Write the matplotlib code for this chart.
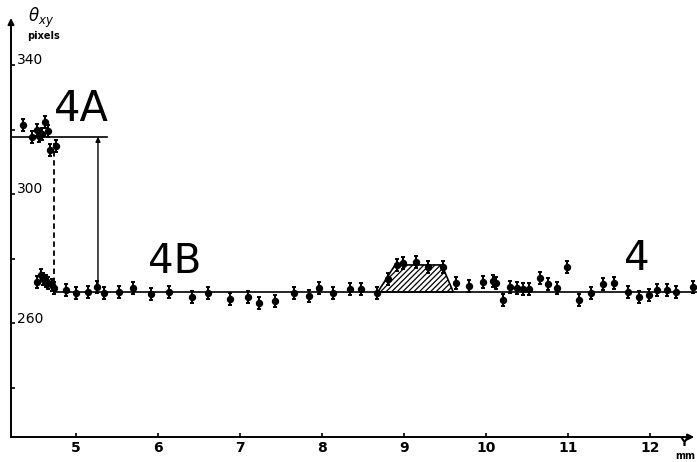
import matplotlib
matplotlib.use('Agg')
import matplotlib.pyplot as plt
from matplotlib.patches import Polygon

# measured points, Y in mm, theta_xy in pixels
y_4a = [4.36, 4.46, 4.53, 4.55, 4.59, 4.63, 4.66, 4.69, 4.76]
theta_4a = [321.4, 317.7, 319.9, 318.0, 318.6, 322.4, 319.6, 313.7, 314.9]

y_4b = [4.53, 4.58, 4.60, 4.64, 4.66, 4.71, 4.74, 4.88, 5.00, 5.15,
        5.26, 5.34, 5.53, 5.70, 5.92, 6.14, 6.41, 6.61, 6.88, 7.10,
        7.23, 7.43, 7.66, 7.84, 7.96, 8.14, 8.34, 8.48, 8.67, 8.81,
        8.92, 8.99, 9.15, 9.29, 9.47, 9.63, 9.79, 9.96, 10.08, 10.12,
        10.21, 10.29, 10.38, 10.45, 10.52, 10.66, 10.75, 10.86, 10.99, 11.13,
        11.28, 11.42, 11.56, 11.73, 11.86, 11.98, 12.08, 12.20, 12.31, 12.52]
theta_4b = [272.8, 275.0, 273.7, 273.1, 272.5, 271.8, 271.0, 270.3, 269.4, 269.7,
            271.3, 269.4, 269.7, 271.0, 269.1, 269.7, 268.2, 269.4, 267.6, 268.2,
            266.3, 266.9, 269.4, 268.5, 271.0, 269.4, 270.7, 270.7, 269.4, 273.7,
            278.1, 278.7, 279.0, 277.5, 277.5, 272.5, 271.6, 272.8, 273.1, 272.5,
            267.2, 271.3, 271.0, 270.7, 270.7, 274.1, 272.2, 271.0, 277.5, 267.2,
            269.4, 272.2, 272.5, 269.7, 268.2, 268.8, 270.3, 270.3, 269.7, 271.3]

level_4a = 317.8
level_4b = 269.7
end_4a = 5.38        # right end of the 4A level line
dashed_y = 4.74      # dashed drop from 4A to 4B
solid_y = 5.27       # solid step between the levels
hump_y = [8.68, 8.89, 9.46, 9.60]
hump_top = 278.1

x_ticks = [5, 6, 7, 8, 9, 10, 11, 12]
y_ticks = [240, 260, 280, 300, 320, 340]
y_labels = [260, 300, 340]

fig = plt.figure(figsize=(6.97, 4.62), dpi=100)
ax = fig.add_axes([11 / 697, 25 / 462, 686 / 697, 419 / 462])
ax.set_xlim(4.21, 12.57)
ax.set_ylim(224.8, 354.6)
for s in ax.spines.values():
    s.set_visible(False)

# axes drawn as arrows
arr = dict(arrowstyle='-|>', lw=1.4, color='k', mutation_scale=9, shrinkA=0, shrinkB=0)
ax.annotate('', xy=(0.996, 0), xytext=(0, 0), xycoords='axes fraction', arrowprops=arr)
ax.annotate('', xy=(0, 1.0), xytext=(0, 0), xycoords='axes fraction', arrowprops=arr)

ax.set_xticks(x_ticks)
ax.set_xticklabels([str(t) for t in x_ticks], fontsize=10, fontweight='bold')
ax.set_yticks(y_ticks)
ax.set_yticklabels([])
ax.tick_params(axis='both', direction='in', length=3, width=1.2, pad=3)
for v in y_labels:
    ax.text(4.28, v + 1.5, str(v), fontsize=10, ha='left', va='center')

# fitted levels
ax.plot([4.21, end_4a], [level_4a, level_4a], color='k', lw=1.2)
ax.plot([dashed_y, 12.57], [level_4b, level_4b], color='k', lw=1.2)
ax.plot([dashed_y, dashed_y], [level_4b, level_4a - 2], color='k', lw=1.3, ls=(0, (3, 2)))
ax.annotate('', xy=(solid_y, level_4a), xytext=(solid_y, level_4b + 2),
            arrowprops=dict(arrowstyle='-|>', lw=1.0, color='k', mutation_scale=7,
                            shrinkA=0, shrinkB=0))

plt.rcParams['hatch.linewidth'] = 0.9
hump = Polygon([(hump_y[0], level_4b), (hump_y[1], hump_top),
                (hump_y[2], hump_top), (hump_y[3], level_4b)],
               closed=True, facecolor='none', edgecolor='k', lw=1.2, hatch='//////')
ax.add_patch(hump)

ax.errorbar(y_4a, theta_4a, yerr=1.8, fmt='o', ms=4.3, color='k',
            capsize=1.6, elinewidth=1.5, capthick=1.4)
ax.errorbar(y_4b, theta_4b, yerr=1.8, fmt='o', ms=4.3, color='k',
            capsize=1.6, elinewidth=1.5, capthick=1.4, clip_on=False)

ax.text(5.07, 326.4, '4A', fontsize=30, ha='center', va='center')
ax.text(6.20, 279.0, '4B', fontsize=29, ha='center', va='center')
ax.text(11.84, 279.9, '4', fontsize=29, ha='center', va='center')

fig.text(28 / 697, 1 - 18 / 462, r'$\theta_{xy}$', fontsize=12, ha='left', va='center')
fig.text(44 / 697, 1 - 36 / 462, 'pixels', fontsize=7, fontweight='bold', ha='center', va='center')
fig.text(684 / 697, 1 - 443 / 462, 'Y', fontsize=9, fontweight='bold', ha='center', va='center')
fig.text(685 / 697, 1 - 456 / 462, 'mm', fontsize=7, fontweight='bold', ha='center', va='center')

fig.savefig('out.png', dpi=100)
